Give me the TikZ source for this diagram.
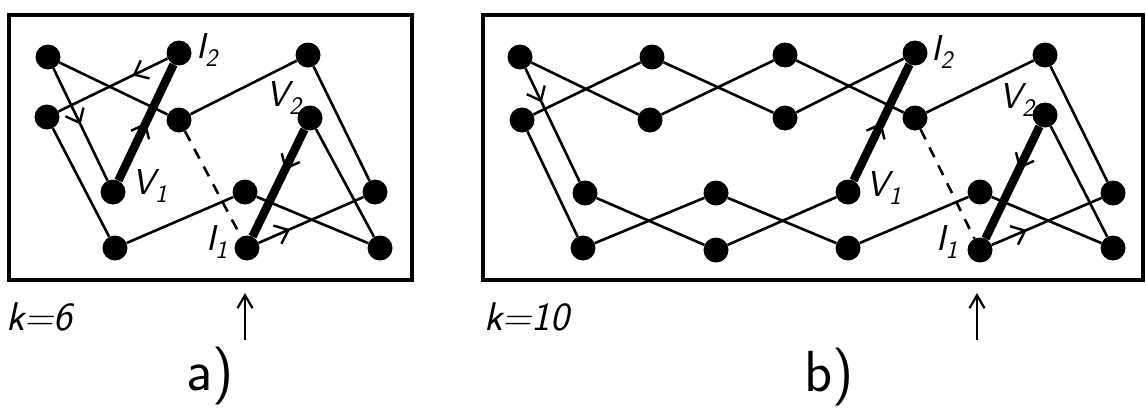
\documentclass[tikz,border=0pt]{standalone}
\usetikzlibrary{arrows.meta,decorations.markings}
\begin{document}
\begin{tikzpicture}[x=1pt,y=-1pt,
  dot/.style={circle,fill=black,inner sep=0pt,minimum size=25pt},
  edgeline/.style={line width=2.6pt},
  heavy/.style={line width=8.5pt},
  dashline/.style={line width=2.6pt,dash pattern=on 11pt off 9pt},
  frame/.style={line width=3.2pt},
  midarrow/.style={postaction={decorate},decoration={markings,mark=at position #1 with {\arrow{Straight Barb[length=12pt,width=20pt,line width=2.4pt]}}}},
  lab/.style={font=\fontsize{36}{40}\selectfont\sffamily\itshape,inner sep=0pt},
  ktext/.style={font=\fontsize{40}{44}\selectfont\sffamily\itshape,inner sep=0pt,anchor=west},
  ptext/.style={font=\fontsize{58}{62}\selectfont\sffamily,inner sep=0pt},
  uparrow/.style={line width=2.2pt,-{Straight Barb[length=13pt,width=15pt,line width=2.2pt]}}
]
\useasboundingbox (0,0) rectangle (1146,407);
% frames
\draw[frame] (9,15) rectangle (412,280);
\draw[frame] (483,15) rectangle (1143,280);

% ---------- panel a ----------
\node[dot] (aA1) at (48,57) {};
\node[dot] (aA2) at (179,53) {};
\node[dot] (aA3) at (308,55) {};
\node[dot] (aB1) at (47,117) {};
\node[dot] (aB2) at (179,120) {};
\node[dot] (aB3) at (310,118) {};
\node[dot] (aC1) at (113,192) {};
\node[dot] (aC2) at (245,192) {};
\node[dot] (aC3) at (375,192) {};
\node[dot] (aD1) at (115,248) {};
\node[dot] (aD2) at (247,248) {};
\node[dot] (aD3) at (380,248) {};

\draw[edgeline,midarrow=0.5] (aA1) -- (aC1);
\draw[heavy,midarrow=0.5] (aC1) -- (aA2);
\draw[edgeline,midarrow=0.32] (aA2) -- (aB1);
\draw[edgeline] (aB1) -- (aD1);
\draw[edgeline] (aD1) -- (aC2);
\draw[edgeline] (aC2) -- (aD3);
\draw[edgeline] (aD3) -- (aB3);
\draw[heavy,midarrow=0.38] (aB3) -- (aD2);
\draw[edgeline,midarrow=0.3] (aD2) -- (aC3);
\draw[edgeline] (aC3) -- (aA3);
\draw[edgeline] (aA3) -- (aB2);
\draw[edgeline] (aB2) -- (aA1);
\draw[dashline] (aB2) -- (aD2);

\node[lab] (aI2) at (207,50) {I\textsubscript{2}};
\node[lab] (aV1) at (150,186) {V\textsubscript{1}};
\node[lab] (aV2) at (284,98) {V\textsubscript{2}};
\node[lab] (aI1) at (217,242) {I\textsubscript{1}};

\node[ktext] (ka) at (6,317) {k=6};
\coordinate (aArS) at (245,340);
\coordinate (aArE) at (245,293);
\draw[uparrow] (aArS) -- (aArE);
\node[ptext] (pa) at (210,376) {a)};

% ---------- panel b ----------
\node[dot] (bA1) at (520,57) {};
\node[dot] (bA2) at (652,57) {};
\node[dot] (bA3) at (785,55) {};
\node[dot] (bA4) at (915,53) {};
\node[dot] (bA5) at (1045,55) {};
\node[dot] (bB1) at (522,120) {};
\node[dot] (bB2) at (650,120) {};
\node[dot] (bB3) at (785,118) {};
\node[dot] (bB4) at (915,118) {};
\node[dot] (bB5) at (1045,115) {};
\node[dot] (bC1) at (585,193) {};
\node[dot] (bC2) at (716,193) {};
\node[dot] (bC3) at (848,192) {};
\node[dot] (bC4) at (980,192) {};
\node[dot] (bC5) at (1113,193) {};
\node[dot] (bD1) at (583,248) {};
\node[dot] (bD2) at (716,250) {};
\node[dot] (bD3) at (848,248) {};
\node[dot] (bD4) at (980,250) {};
\node[dot] (bD5) at (1113,248) {};

\draw[edgeline,midarrow=0.3] (bA1) -- (bC1);
\draw[edgeline] (bC1) -- (bD2);
\draw[edgeline] (bD2) -- (bC3);
\draw[heavy,midarrow=0.5] (bC3) -- (bA4);
\draw[edgeline] (bA4) -- (bB3);
\draw[edgeline] (bB3) -- (bA2);
\draw[edgeline] (bA2) -- (bB1);
\draw[edgeline] (bB1) -- (bD1);
\draw[edgeline] (bD1) -- (bC2);
\draw[edgeline] (bC2) -- (bD3);
\draw[edgeline] (bD3) -- (bC4);
\draw[edgeline] (bC4) -- (bD5);
\draw[edgeline] (bD5) -- (bB5);
\draw[heavy,midarrow=0.38] (bB5) -- (bD4);
\draw[edgeline,midarrow=0.32] (bD4) -- (bC5);
\draw[edgeline] (bC5) -- (bA5);
\draw[edgeline] (bA5) -- (bB4);
\draw[edgeline] (bB4) -- (bA3);
\draw[edgeline] (bA3) -- (bB2);
\draw[edgeline] (bB2) -- (bA1);
\draw[dashline] (bB4) -- (bD4);

\node[lab] (bI2) at (942,52) {I\textsubscript{2}};
\node[lab] (bV1) at (884,188) {V\textsubscript{1}};
\node[lab] (bV2) at (1017,100) {V\textsubscript{2}};
\node[lab] (bI1) at (947,242) {I\textsubscript{1}};

\node[ktext] (kb) at (484,317) {k=10};
\coordinate (bArS) at (977,340);
\coordinate (bArE) at (977,293);
\draw[uparrow] (bArS) -- (bArE);
\node[ptext] (pb) at (829,377) {b)};
\end{tikzpicture}
\end{document}
